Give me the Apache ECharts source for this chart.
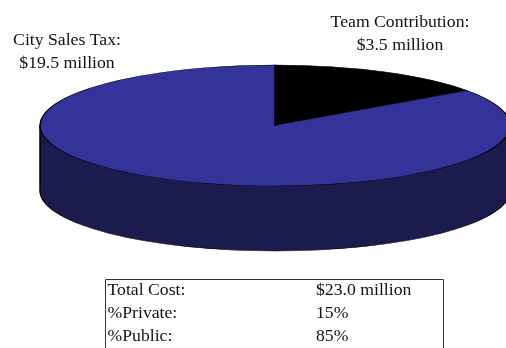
<!DOCTYPE html>
<html>
<head>
<meta charset="utf-8">
<style>html,body{margin:0;padding:0;background:#fff}#chart{width:506px;height:348px}</style>
<script src="https://cdn.jsdelivr.net/npm/echarts@6/dist/echarts.min.js"></script>
</head>
<body>
<div id="chart"></div>
<script>
// Funding sources, clockwise from twelve o'clock
const sources = ['Team Contribution', 'City Sales Tax'];
const amounts = [3.5, 19.5];
const sliceColors = ['#000000', '#333399'];
const sliceLabels = [['Team Contribution:', '$3.5 million'], ['City Sales Tax:', '$19.5 million']];
const labelAnchors = [[400, 22], [67, 40]];

// Summary table
const tableLabels = ['Total Cost:', '%Private:', '%Public:'];
const tableValues = ['$23.0 million', '15%', '85%'];

const FONT = '"Liberation Serif", serif';
const FONT_SIZE = 17.7;
const INK = '#111111';
const CX = 275, CY = 125.5, RX = 235, RY = 60.5, DEPTH = 65;
const WALL = '#1b1b4d';
const OUTLINE = 1.5;
const total = amounts.reduce((a, b) => a + b, 0);

// Shape of the tilted disc: an ordinary sector squashed vertically
function discSector(y, start, end, fill) {
  return {
    type: 'sector',
    x: CX, y: y, scaleY: RY / RX,
    shape: { cx: 0, cy: 0, r: RX, startAngle: start, endAngle: end, clockwise: true },
    style: { fill: fill, stroke: '#000', lineWidth: OUTLINE, strokeNoScale: true }
  };
}

function renderSlice(params, api) {
  const i = params.dataIndex;
  let before = 0;
  for (let k = 0; k < i; k++) before += amounts[k];
  const start = -Math.PI / 2 + before / total * Math.PI * 2;
  const end = start + api.value(0) / total * Math.PI * 2;
  return discSector(CY, start, end, sliceColors[i]);
}

function renderWall() {
  return {
    type: 'group',
    children: [
      discSector(CY + DEPTH, 0, Math.PI, WALL),
      { type: 'rect', shape: { x: CX - RX, y: CY, width: RX * 2, height: DEPTH + 1 }, style: { fill: WALL } },
      { type: 'line', shape: { x1: CX - RX, y1: CY, x2: CX - RX, y2: CY + DEPTH }, style: { stroke: '#000', lineWidth: OUTLINE } },
      { type: 'line', shape: { x1: CX + RX, y1: CY, x2: CX + RX, y2: CY + DEPTH }, style: { stroke: '#000', lineWidth: OUTLINE } }
    ]
  };
}

const textEl = (x, y, text, align) => ({
  type: 'text', x: x, y: y,
  style: { text: text, fill: INK, font: FONT_SIZE + 'px ' + FONT, textAlign: align || 'left', textVerticalAlign: 'middle' }
});

const graphics = [
  { type: 'rect', shape: { x: 105.5, y: 279.5, width: 338, height: 90 }, style: { fill: '#fff', stroke: '#333', lineWidth: 1 } }
];
const rowY = [290, 313, 336];
tableLabels.forEach((t, i) => {
  graphics.push(textEl(107.5, rowY[i], t));
  graphics.push(textEl(316, rowY[i], tableValues[i]));
});
sliceLabels.forEach((lines, i) => {
  lines.forEach((t, j) => graphics.push(textEl(labelAnchors[i][0], labelAnchors[i][1] + j * 23, t, 'center')));
});

const chart = echarts.init(document.getElementById('chart'), null, { renderer: 'canvas' });
chart.setOption({
  animation: false,
  backgroundColor: '#ffffff',
  series: [
    { type: 'custom', coordinateSystem: 'none', silent: true, data: [0], renderItem: renderWall },
    {
      type: 'custom', coordinateSystem: 'none', silent: true,
      data: sources.map((name, i) => ({ name: name, value: [amounts[i]] })),
      encode: { value: 0 },
      renderItem: renderSlice
    }
  ],
  graphic: graphics
});
</script>
</body>
</html>
